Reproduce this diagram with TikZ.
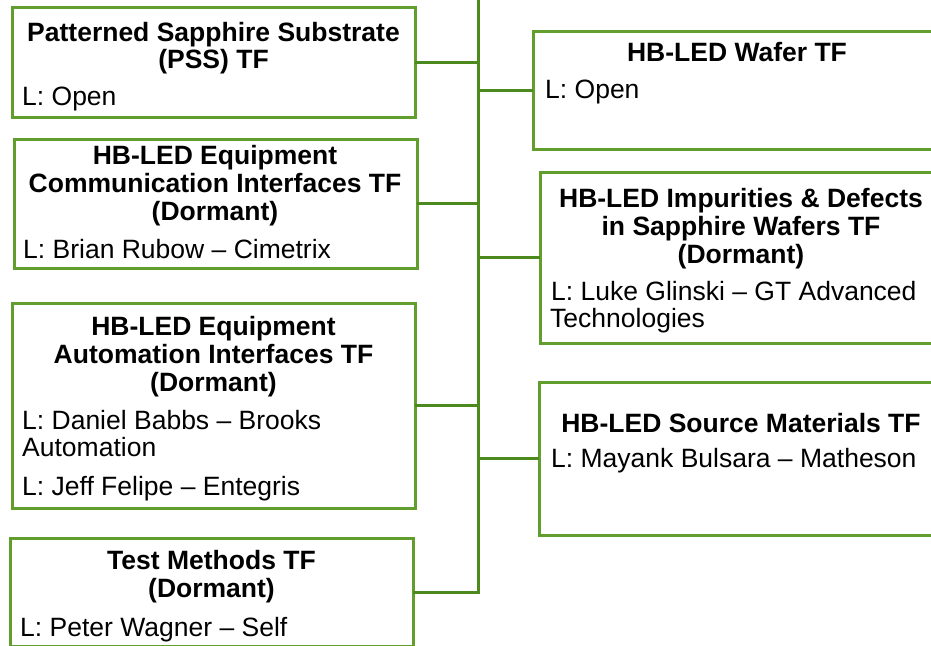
\documentclass[tikz,border=0pt]{standalone}
\usepackage{fontspec}
\setmainfont{Liberation Sans}
\definecolor{boxgreen}{RGB}{98,158,46}
\definecolor{linegreen}{RGB}{76,138,30}
\tikzset{
  tfbox/.style={draw=boxgreen, line width=3pt, fill=white, rectangle, inner sep=0pt, outer sep=0pt, anchor=north west},
  ttl/.style={font=\fontsize{26.5}{28}\selectfont\bfseries, inner sep=0pt, anchor=base, text=black},
  ldr/.style={font=\fontsize{26.5}{28}\selectfont, inner sep=0pt, anchor=base west, text=black},
  conn/.style={draw=linegreen, line width=3pt}
}
\begin{document}
\begin{tikzpicture}[x=1pt,y=-1pt]
\useasboundingbox (0,0) rectangle (931,645);
\clip (0,0) rectangle (931,645);
\coordinate (trtop) at (478,-5);
% left boxes
\node[tfbox, minimum width=403pt, minimum height=110pt] (pss) at (12,7) {};
\node[tfbox, minimum width=403pt, minimum height=129pt] (comm) at (14,139) {};
\node[tfbox, minimum width=403pt, minimum height=205pt] (auto) at (12,303) {};
\node[tfbox, minimum width=403pt, minimum height=108pt] (test) at (10,538) {};
% right boxes
\node[tfbox, minimum width=414pt, minimum height=118pt] (wafer) at (533,31) {};
\node[tfbox, minimum width=410pt, minimum height=171pt] (impur) at (540,172) {};
\node[tfbox, minimum width=410pt, minimum height=153pt] (source) at (539,382) {};
% connectors
\coordinate (trbot) at (test.east -| trtop);
\draw[conn] (trtop) -- (trbot) -- (test.east);
\draw[conn] (pss.east) -- (pss.east -| trtop);
\draw[conn] (comm.east) -- (comm.east -| trtop);
\draw[conn] (auto.east) -- (auto.east -| trtop);
\draw[conn] (wafer.west -| trtop) -- (wafer.west);
\draw[conn] (impur.west -| trtop) -- (impur.west);
\draw[conn] (source.west -| trtop) -- (source.west);
% texts: PSS
\node[ttl] (pss1) at (213.5,41.5) {Patterned Sapphire Substrate};
\node[ttl] (pss2) at (213.5,68) {(PSS) TF};
\node[ldr] (pss3) at (22,105.5) {L: Open};
% Comm
\node[ttl] (comm1) at (215,164) {HB-LED Equipment};
\node[ttl] (comm2) at (215,192) {Communication Interfaces TF};
\node[ttl] (comm3) at (215,220) {(Dormant)};
\node[ldr] (comm4) at (23,258) {L: Brian Rubow – Cimetrix};
% Automation
\node[ttl] (auto1) at (213.5,335) {HB-LED Equipment};
\node[ttl] (auto2) at (213.5,363) {Automation Interfaces TF};
\node[ttl] (auto3) at (213.5,391) {(Dormant)};
\node[ldr] (auto4) at (22,429) {L: Daniel Babbs – Brooks};
\node[ldr] (auto5) at (22,456) {Automation};
\node[ldr] (auto6) at (22,495) {L: Jeff Felipe – Entegris};
% Test
\node[ttl] (test1) at (211.5,569) {Test Methods TF};
\node[ttl] (test2) at (211.5,597) {(Dormant)};
\node[ldr] (test3) at (20,636) {L: Peter Wagner – Self};
% Wafer
\node[ttl] (wafer1) at (737,61) {HB-LED Wafer TF};
\node[ldr] (wafer2) at (545,98) {L: Open};
% Impurities
\node[ttl] (impur1) at (741,207) {HB-LED Impurities \& Defects};
\node[ttl] (impur2) at (741,235) {in Sapphire Wafers TF};
\node[ttl] (impur3) at (741,263) {(Dormant)};
\node[ldr] (impur4) at (551,300) {L: Luke Glinski – GT Advanced};
\node[ldr] (impur5) at (550,327) {Technologies};
% Source
\node[ttl] (source1) at (741,432) {HB-LED Source Materials TF};
\node[ldr] (source2) at (551,467) {L: Mayank Bulsara – Matheson};
\end{tikzpicture}
\end{document}
